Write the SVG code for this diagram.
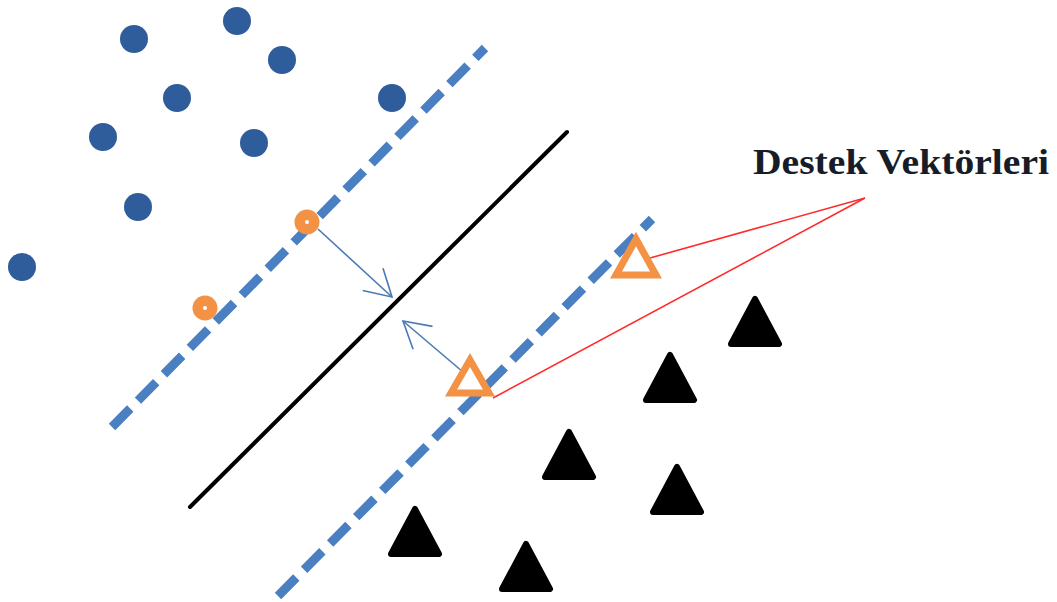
<svg xmlns="http://www.w3.org/2000/svg" width="1057" height="602" viewBox="0 0 1057 602">
  <style>
    .dot { fill: #2f5c9b; }
    .sv-dot { fill: #f39244; }
    .sv-dot-core { fill: #ffffff; }
    .margin { fill: none; stroke: #4a7fc1; stroke-width: 9; stroke-dasharray: 26 11; }
    .hyperplane { fill: none; stroke: #000000; stroke-width: 4; stroke-linecap: round; }
    .dist { fill: none; stroke: #4a7ab5; stroke-width: 1.6; }
    .pointer { fill: none; stroke: #ff2b2b; stroke-width: 1.6; }
    .tri { fill: #000000; stroke: #000000; stroke-width: 6; stroke-linejoin: round; }
    .sv-tri { fill: #ffffff; stroke: #f39244; stroke-width: 7; stroke-linejoin: miter; }
    .label { font-family: "Liberation Serif", "Times New Roman", serif; font-weight: bold; font-size: 36px; fill: #161c28; }
  </style>
  <defs>
    <marker id="open-head" markerUnits="userSpaceOnUse" viewBox="-30 -18 32 36" markerWidth="32" markerHeight="36" refX="0" refY="0" orient="auto">
      <path d="M -26,-15 L 0,0 L -26,15" fill="none" stroke="#4a7ab5" stroke-width="1.6"/>
    </marker>
    <path id="tri-shape" d="M 0,4 L 24,49 L -24,49 Z"/>
  </defs>

  <!-- margin lines, separating hyperplane, distance arrows and label pointers -->
  <g id="connectors">
    <line class="margin" x1="112" y1="427" x2="485" y2="48"/>
    <line class="margin" x1="278" y1="596" x2="652" y2="219"/>
    <line class="hyperplane" x1="190" y1="507" x2="567" y2="132"/>
    <line class="dist" x1="318" y1="229" x2="392" y2="297" marker-end="url(#open-head)"/>
    <line class="dist" x1="463" y1="372" x2="403" y2="321" marker-end="url(#open-head)"/>
    <line class="pointer" x1="865" y1="198" x2="650" y2="258"/>
    <line class="pointer" x1="865" y1="198" x2="493" y2="398"/>
  </g>

  <!-- class A: circles -->
  <g id="class-a">
    <circle class="dot" cx="134" cy="39" r="14"/>
    <circle class="dot" cx="237" cy="21" r="14"/>
    <circle class="dot" cx="282" cy="60" r="14"/>
    <circle class="dot" cx="177" cy="98" r="14"/>
    <circle class="dot" cx="392" cy="98" r="14"/>
    <circle class="dot" cx="103" cy="137" r="14"/>
    <circle class="dot" cx="254" cy="143" r="14"/>
    <circle class="dot" cx="138" cy="207" r="14"/>
    <circle class="dot" cx="22" cy="267" r="14"/>
  </g>

  <!-- class A support vectors -->
  <g id="sv-circle-1">
    <circle class="sv-dot" cx="307" cy="222" r="12.5"/>
    <circle class="sv-dot-core" cx="307" cy="222" r="2"/>
  </g>
  <g id="sv-circle-2">
    <circle class="sv-dot" cx="205" cy="308" r="12.5"/>
    <circle class="sv-dot-core" cx="205" cy="308" r="2"/>
  </g>

  <!-- class B: triangles -->
  <g id="class-b">
    <use href="#tri-shape" class="tri" x="755" y="295"/>
    <use href="#tri-shape" class="tri" x="670" y="351"/>
    <use href="#tri-shape" class="tri" x="569" y="428"/>
    <use href="#tri-shape" class="tri" x="677" y="463"/>
    <use href="#tri-shape" class="tri" x="415" y="505"/>
    <use href="#tri-shape" class="tri" x="526" y="540"/>
  </g>

  <!-- class B support vectors -->
  <g id="sv-tri-1">
    <path class="sv-tri" d="M 470,360 L 489,393 L 451,393 Z"/>
  </g>
  <g id="sv-tri-2">
    <path class="sv-tri" d="M 636,239 L 656,275 L 616,275 Z"/>
  </g>

  <g id="label">
    <text class="label" x="753" y="174" textLength="296" lengthAdjust="spacingAndGlyphs">Destek Vektörleri</text>
  </g>
</svg>
